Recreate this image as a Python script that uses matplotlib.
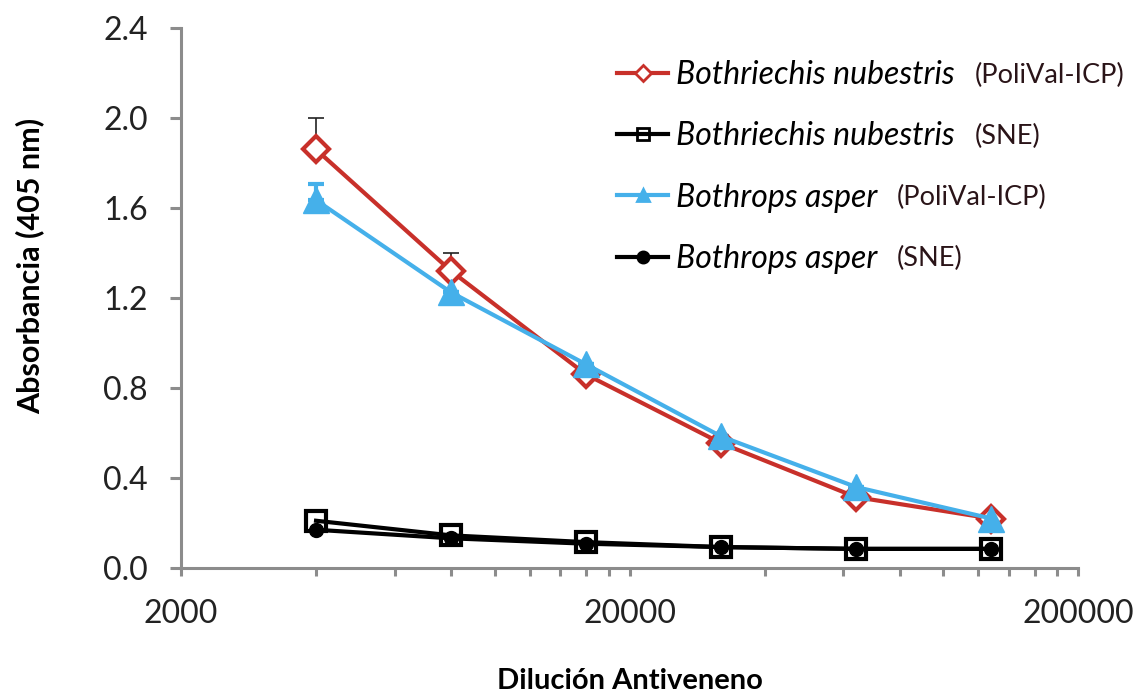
import numpy as np
import matplotlib
matplotlib.use("Agg")
import matplotlib.pyplot as plt
from matplotlib.ticker import FixedLocator, NullFormatter

plt.rcParams["font.family"]=["Lato","DejaVu Sans"]

# dilution series
dilucion=[4000,8000,16000,32000,64000,128000]

bn_icp=[1.86,1.32,0.86,0.555,0.315,0.22]
bn_icp_err=[0.14,0.08,0.0,0.0,0.0,0.0]
bn_sne=[0.21,0.145,0.115,0.093,0.085,0.085]
ba_icp=[1.635,1.225,0.905,0.585,0.36,0.22]
ba_icp_err=[0.07,0.0,0.0,0.0,0.0,0.0]
ba_sne=[0.17,0.132,0.108,0.093,0.085,0.085]

especies=["Bothriechis nubestris","Bothriechis nubestris","Bothrops asper","Bothrops asper"]
sufijos=["(PoliVal-ICP)","(SNE)","(PoliVal-ICP)","(SNE)"]

yticks=[0.0,0.4,0.8,1.2,1.6,2.0,2.4]
xticks=[2000,20000,200000]

RED="#c8302a"
BLUE="#45b0ea"
GRAY="#8c8c8c"

fig=plt.figure(figsize=(11.48,6.96),dpi=100)
ax=fig.add_axes([0.1577,0.1839,0.7813,0.7759])

zeros=np.zeros(len(dilucion))
ax.errorbar(dilucion,bn_icp,yerr=[zeros,bn_icp_err],fmt="none",ecolor="#222222",
            elinewidth=1.2,capsize=6,capthick=1.2,zorder=2)
ax.errorbar(dilucion,ba_icp,yerr=[zeros,ba_icp_err],fmt="none",ecolor=BLUE,
            elinewidth=3,capsize=6,capthick=3,zorder=2)

l1,=ax.plot(dilucion,bn_icp,color=RED,lw=3,marker="D",ms=13,mfc="white",
            mec=RED,mew=3,zorder=4)
l2,=ax.plot(dilucion,bn_sne,color="black",lw=3,marker="s",ms=15,mfc="none",
            mec="black",mew=3,zorder=3)
l3,=ax.plot(dilucion,ba_icp,color=BLUE,lw=3,marker="^",ms=19,mfc=BLUE,
            mec=BLUE,zorder=5)
l4,=ax.plot(dilucion,ba_sne,color="black",lw=3,marker="o",ms=10,mfc="black",
            mec="black",zorder=3)

ax.set_xscale("log")
ax.set_xlim(2000,200000)
ax.set_ylim(0,2.4)
ax.xaxis.set_major_locator(FixedLocator(xticks))
ax.xaxis.set_minor_locator(FixedLocator([k*m for m in [2000,20000] for k in range(2,10)]))
ax.xaxis.set_minor_formatter(NullFormatter())
ax.set_xticklabels([str(v) for v in xticks])
ax.set_yticks(yticks)
ax.set_yticklabels([f"{v:.1f}" for v in yticks])

for s in ["top","right"]:
    ax.spines[s].set_visible(False)
for s in ["left","bottom"]:
    ax.spines[s].set_color(GRAY)
    ax.spines[s].set_linewidth(2.2)
ax.tick_params(axis="y",which="major",direction="out",length=8,width=2.2,color=GRAY,
               labelsize=23,pad=16,labelcolor="#222222")
ax.tick_params(axis="x",which="both",direction="out",length=6,width=2.2,color=GRAY,
               labelsize=23,pad=16,labelcolor="#222222")

ax.set_ylabel("Absorbancia (405 nm)",fontsize=22,fontweight="bold")
ax.set_xlabel("Dilución Antiveneno",fontsize=21,fontweight="bold")
ax.yaxis.set_label_coords(-0.152,0.559)
ax.xaxis.set_label_coords(0.5,-0.185)

leg=ax.legend([l1,l2,l3,l4],especies,loc="upper left",
              bbox_to_anchor=(617/1148,1-60/696),bbox_transform=fig.transFigure,
              frameon=False,handlelength=1.6,handletextpad=0.24,
              labelspacing=0.98,borderaxespad=0,borderpad=0,
              prop={"style":"italic","size":23})
for h in leg.legend_handles:
    h.set_markersize(8)
    h.set_markeredgewidth(2)

fig.canvas.draw()
renderer=fig.canvas.get_renderer()
inv=fig.transFigure.inverted()
for txt,suf in zip(leg.get_texts(),sufijos):
    bb=txt.get_window_extent(renderer)
    x0,y0=inv.transform((bb.x1+20,(bb.y0+bb.y1)/2))
    fig.text(x0,y0,suf,fontsize=19.5,color="#2a1418",va="center",ha="left")

fig.savefig("out.png",dpi=100)
